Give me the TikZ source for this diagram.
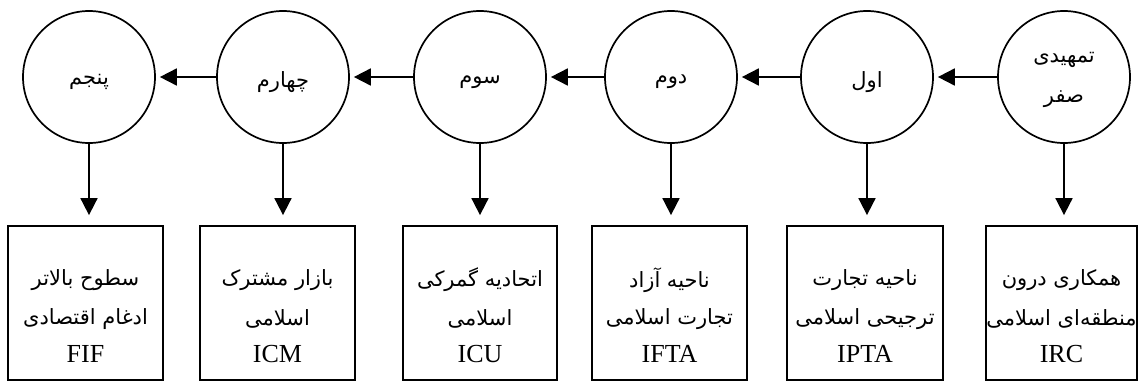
\documentclass[tikz,border=0pt]{standalone}
\usepackage{fontspec}
\setmainfont{Liberation Serif}
\newfontfamily\arabicfont[Script=Arabic]{DejaVu Sans}
\TeXXeTstate=1
\usetikzlibrary{arrows.meta}
\newcommand\farsi[1]{{\arabicfont\beginR #1\endR}}
\begin{document}
\begin{tikzpicture}[x=1pt,y=-1pt,
  stage/.style={draw, circle, line width=1.7pt, minimum size=132pt, inner sep=0pt},
  level/.style={draw, rectangle, line width=1.8pt, minimum height=154pt, inner sep=0pt},
  cfa/.style={font=\fontsize{21}{24}\selectfont, inner sep=0pt},
  fa/.style={font=\fontsize{21}{24}\selectfont, inner sep=0pt},
  code/.style={font=\fontsize{26}{28}\selectfont, inner sep=0pt},
  flow/.style={line width=1.8pt, -{Triangle[length=17pt,width=17pt]}}]
\useasboundingbox (0,0) rectangle (1138,381);
% stages (circles)
\node[stage] (c0) at (1064,77) {};
\node[stage] (c1) at (867,77) {};
\node[stage] (c2) at (671,77) {};
\node[stage] (c3) at (480,77) {};
\node[stage] (c4) at (283,77) {};
\node[stage] (c5) at (89,77) {};
\node[cfa] (c0a) at (1064,60) {\farsi{تمهیدی}};
\node[cfa] (c0b) at (1064,99) {\farsi{صفر}};
\node[cfa] (c1t) at (867,82) {\farsi{اول}};
\node[cfa] (c2t) at (671,82) {\farsi{دوم}};
\node[cfa] (c3t) at (480,82) {\farsi{سوم}};
\node[cfa] (c4t) at (283,82) {\farsi{چهارم}};
\node[cfa] (c5t) at (89,82) {\farsi{پنجم}};
% boxes
\node[level, minimum width=151pt] (b0) at (1061.5,303) {};
\node[level, minimum width=156pt] (b1) at (865,303) {};
\node[level, minimum width=155pt] (b2) at (669.5,303) {};
\node[level, minimum width=154pt] (b3) at (480,303) {};
\node[level, minimum width=155pt] (b4) at (277.5,303) {};
\node[level, minimum width=155pt] (b5) at (85.5,303) {};
% box texts
\node[fa] (b0a) at (1061.5,280) {\farsi{همکاری درون}};
\node[fa] (b0b) at (1061.5,319) {\farsi{منطقه‌ای اسلامی}};
\node[code] (b0c) at (1061.5,354) {IRC};
\node[fa] (b1a) at (865,280) {\farsi{ناحیه تجارت}};
\node[fa] (b1b) at (865,319) {\farsi{ترجیحی اسلامی}};
\node[code] (b1c) at (865,354) {IPTA};
\node[fa] (b2a) at (669.5,280) {\farsi{ناحیه آزاد}};
\node[fa] (b2b) at (669.5,319) {\farsi{تجارت اسلامی}};
\node[code] (b2c) at (669.5,354) {IFTA};
\node[fa] (b3a) at (480,280) {\farsi{اتحادیه گمرکی}};
\node[fa] (b3b) at (480,319) {\farsi{اسلامی}};
\node[code] (b3c) at (480,354) {ICU};
\node[fa] (b4a) at (277.5,280) {\farsi{بازار مشترک}};
\node[fa] (b4b) at (277.5,319) {\farsi{اسلامی}};
\node[code] (b4c) at (277.5,354) {ICM};
\node[fa] (b5a) at (85.5,280) {\farsi{سطوح بالاتر}};
\node[fa] (b5b) at (85.5,319) {\farsi{ادغام اقتصادی}};
\node[code] (b5c) at (85.5,354) {FIF};
% horizontal arrows
\draw[flow, shorten >=4pt] (c0.west) -- (c1.east);
\draw[flow, shorten >=4pt] (c1.west) -- (c2.east);
\draw[flow, shorten >=4pt] (c2.west) -- (c3.east);
\draw[flow, shorten >=4pt] (c3.west) -- (c4.east);
\draw[flow, shorten >=4pt] (c4.west) -- (c5.east);
% vertical arrows
\draw[flow, shorten >=10pt] (c0.south) -- (c0.south |- b0.north);
\draw[flow, shorten >=10pt] (c1.south) -- (c1.south |- b1.north);
\draw[flow, shorten >=10pt] (c2.south) -- (c2.south |- b2.north);
\draw[flow, shorten >=10pt] (c3.south) -- (c3.south |- b3.north);
\draw[flow, shorten >=10pt] (c4.south) -- (c4.south |- b4.north);
\draw[flow, shorten >=10pt] (c5.south) -- (c5.south |- b5.north);
\end{tikzpicture}
\end{document}
